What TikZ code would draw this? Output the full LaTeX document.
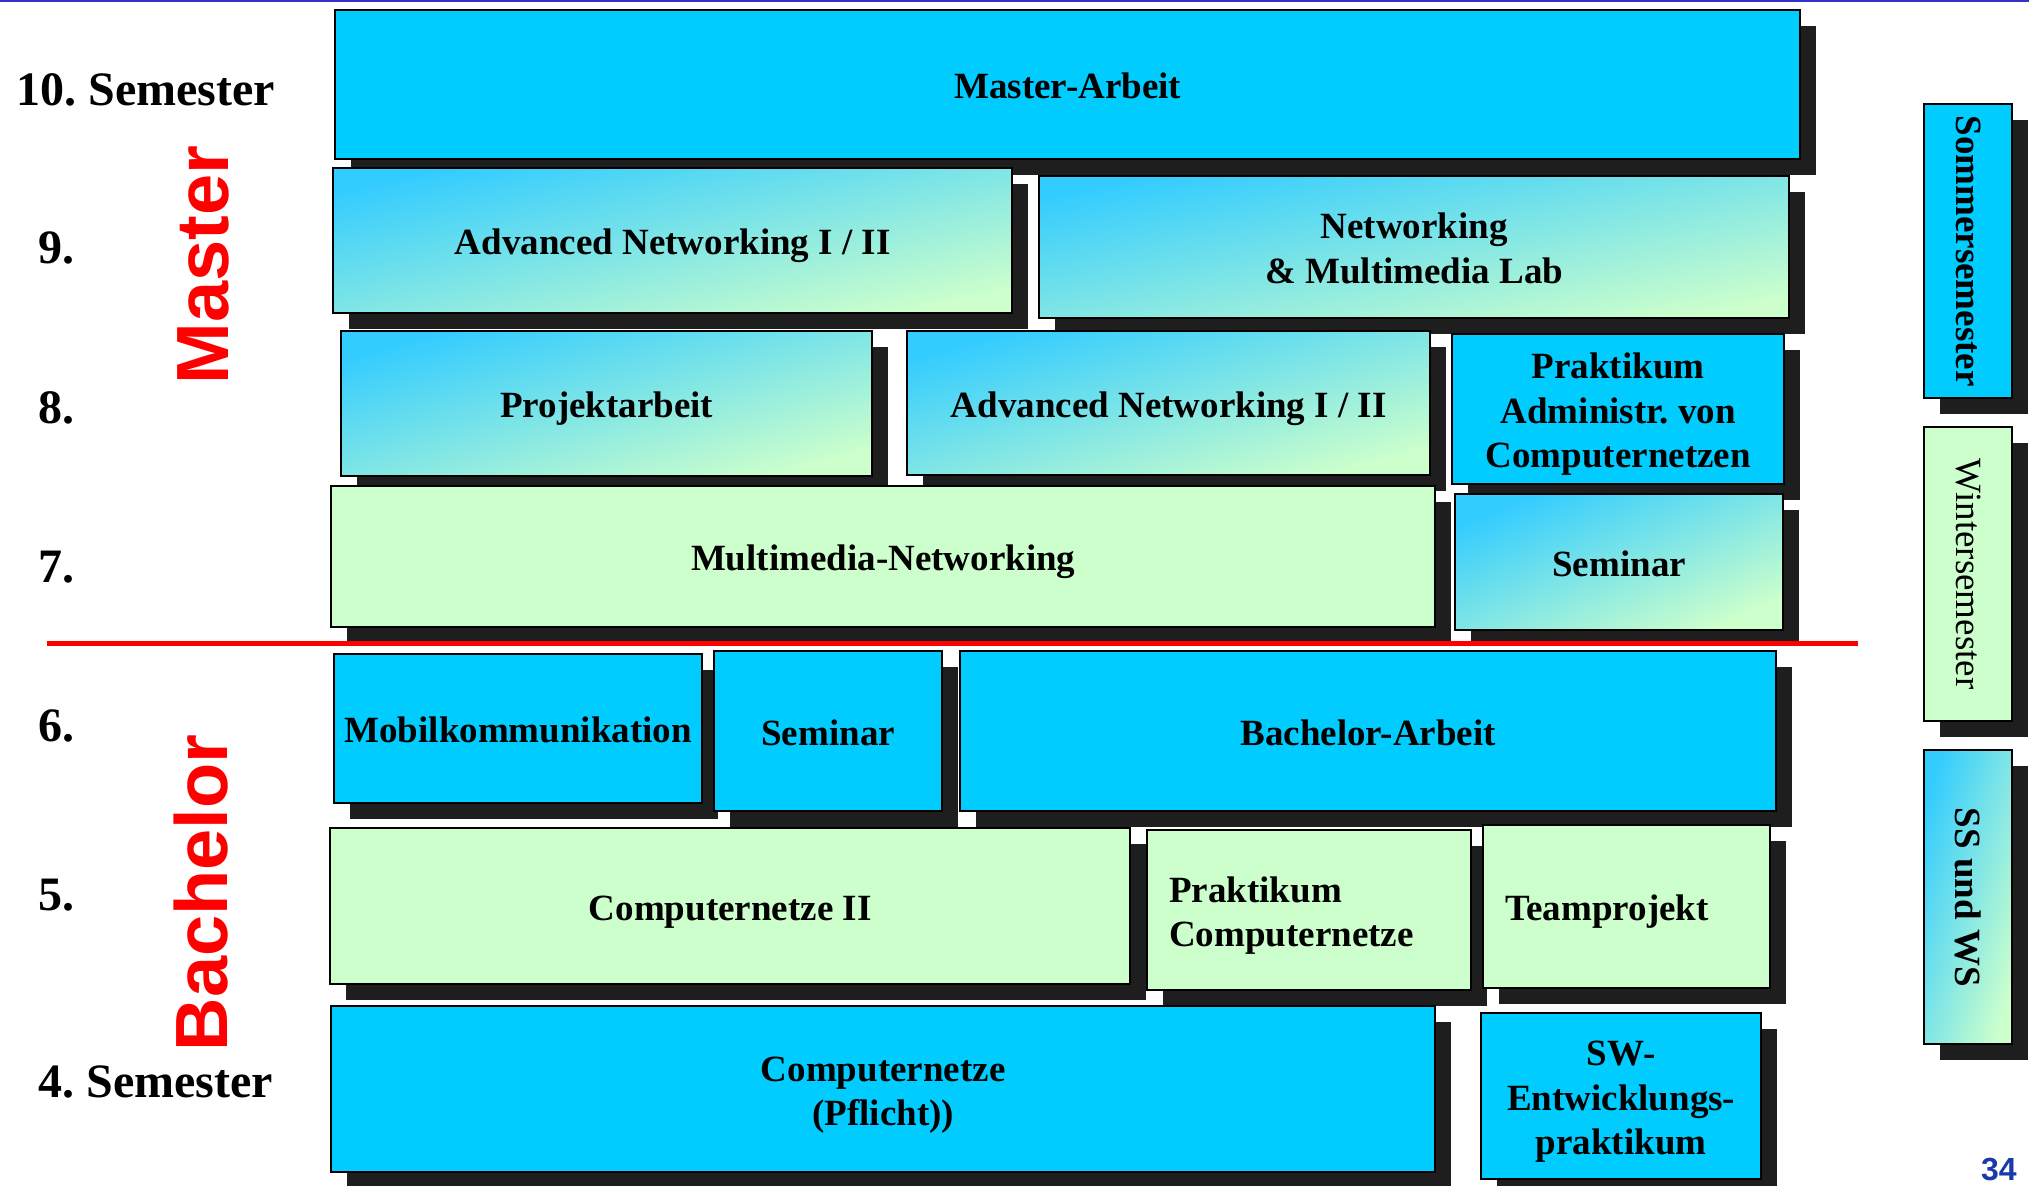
\documentclass[tikz,border=0pt]{standalone}
\usepackage{fontspec}
\setmainfont{Liberation Serif}
\setsansfont{Liberation Sans}
\usepackage{graphicx}
\usetikzlibrary{shadows}
\frenchspacing

\definecolor{cyanfill}{RGB}{0,204,255}
\definecolor{greenfill}{RGB}{204,255,204}
\definecolor{gradtop}{RGB}{51,204,255}
\definecolor{shadowgray}{RGB}{30,30,30}
\definecolor{topblue}{RGB}{51,51,204}
\definecolor{pageblue}{RGB}{26,58,168}

\newcommand{\modfont}{\fontsize{18.5}{22.2}\selectfont}
\newcommand{\semfont}{\fontsize{24}{28.8}\selectfont\bfseries}
\newcommand{\degreefont}{\fontsize{37}{44}\selectfont\sffamily\bfseries}

\tikzset{
  module/.style={draw, line width=1.2pt, anchor=north west, inner sep=0pt, align=center, font=\modfont\bfseries,
    drop shadow={shadow xshift=8pt, shadow yshift=-8pt, fill=shadowgray, opacity=1}},
  cyanmod/.style={module, fill=cyanfill},
  greenmod/.style={module, fill=greenfill},
  shademod/.style={module, top color=gradtop, bottom color=greenfill, shading angle=#1},
  leftmod/.style={align=left, inner xsep=11pt},
  nlines/.style={text height={(#1-1)*22.2pt+16pt}, text depth=2pt},
  nlines/.default=1,
  ntop/.style={text height=16pt, text depth={(#1-1)*22.2pt+2pt}},
  semlabel/.style={anchor=base west, inner sep=0pt, font=\semfont},
  degree/.style={anchor=base, rotate=90, inner sep=0pt, text=red, font=\degreefont},
}

\begin{document}
\begin{tikzpicture}[x=0.5pt, y=-0.5pt]
  \useasboundingbox (0,0) rectangle (2029,1186);
  \draw[topblue, line width=1.25pt] (0,1.25) -- (2029,1.25);

  \node[semlabel] (s10) at (16,106) {10. Semester};
  \node[semlabel] (s9) at (38,264) {9.};
  \node[semlabel] (s8) at (38,424) {8.};
  \node[semlabel] (s7) at (38,583) {7.};
  \node[semlabel] (s6) at (38,742) {6.};
  \node[semlabel] (s5) at (38,910) {5.};
  \node[semlabel] (s4) at (38,1097) {4. Semester};
  \node[degree] (master) at (228,265) {Master};
  \node[degree] (bachelor) at (227,893) {Bachelor};

  \node[cyanmod, nlines, minimum width=732.5pt, minimum height=74.5pt] (ma) at (334,9) {Master-Arbeit};
  \node[shademod=12.05, nlines, minimum width=339.5pt, minimum height=72.5pt] (an9) at (332,167) {Advanced Networking I / II};
  \node[shademod=10.72, nlines=2, minimum width=375pt, minimum height=71pt] (nml) at (1038,175) {Networking\\\& Multimedia Lab};
  \node[shademod=15.27, nlines, minimum width=265.5pt, minimum height=72.5pt] (pa) at (340,330) {Projektarbeit};
  \node[shademod=15.39, nlines, minimum width=261.5pt, minimum height=72pt] (an8) at (906,330) {Advanced Networking I / II};
  \node[cyanmod, nlines=3, minimum width=166pt, minimum height=75pt] (pac) at (1451,333) {Praktikum\\Administr. von\\Computernetzen};
  \node[greenmod, nlines, minimum width=552pt, minimum height=70.5pt] (mmn) at (330,485) {Multimedia-Networking};
  \node[shademod=22.52, nlines, minimum width=164pt, minimum height=68pt] (sem7) at (1454,493) {Seminar};
  \node[cyanmod, nlines, minimum width=184pt, minimum height=74.5pt] (mk) at (333,653) {Mobilkommunikation};
  \node[cyanmod, nlines, minimum width=114pt, minimum height=80pt] (sem6) at (713,650) {Seminar};
  \node[cyanmod, nlines, minimum width=408pt, minimum height=80pt] (ba) at (959,650) {Bachelor-Arbeit};
  \node[greenmod, nlines, minimum width=400pt, minimum height=78pt] (cn2) at (329,827) {Computernetze II};
  \node[greenmod, leftmod, ntop=2, text width=140pt, minimum height=80pt] (pcn) at (1146,829) {Praktikum\\Computernetze};
  \node[greenmod, leftmod, ntop=1, text width=121.5pt, minimum height=81.5pt] (tp) at (1482,824) {Teamprojekt};
  \node[cyanmod, nlines=2, minimum width=552pt, minimum height=83pt] (cnp) at (330,1005) {Computernetze\\(Pflicht))};
  \node[cyanmod, nlines=3, minimum width=140pt, minimum height=83pt] (swe) at (1480,1012) {SW-\\Entwicklungs-\\praktikum};

  \node[cyanmod, minimum width=44pt, minimum height=147pt] (ss) at (1923,103) {\rotatebox{-90}{Sommersemester}};
  \node[greenmod, font=\modfont, minimum width=44pt, minimum height=147pt] (ws) at (1923,426) {\rotatebox{-90}{Wintersemester}};
  \node[shademod=73.34, minimum width=44pt, minimum height=147pt] (sw) at (1923,749) {\rotatebox{-90}{SS und WS}};

  \coordinate (divl) at (47,643.5);
  \coordinate (divr) at (1858,643.5);
  \draw[red, line width=2.5pt] (divl) -- (divr);

  \node[anchor=base east, inner sep=0pt, text=pageblue, font=\fontsize{16}{19}\selectfont\sffamily\bfseries] (page) at (2017,1180) {34};
\end{tikzpicture}
\end{document}
